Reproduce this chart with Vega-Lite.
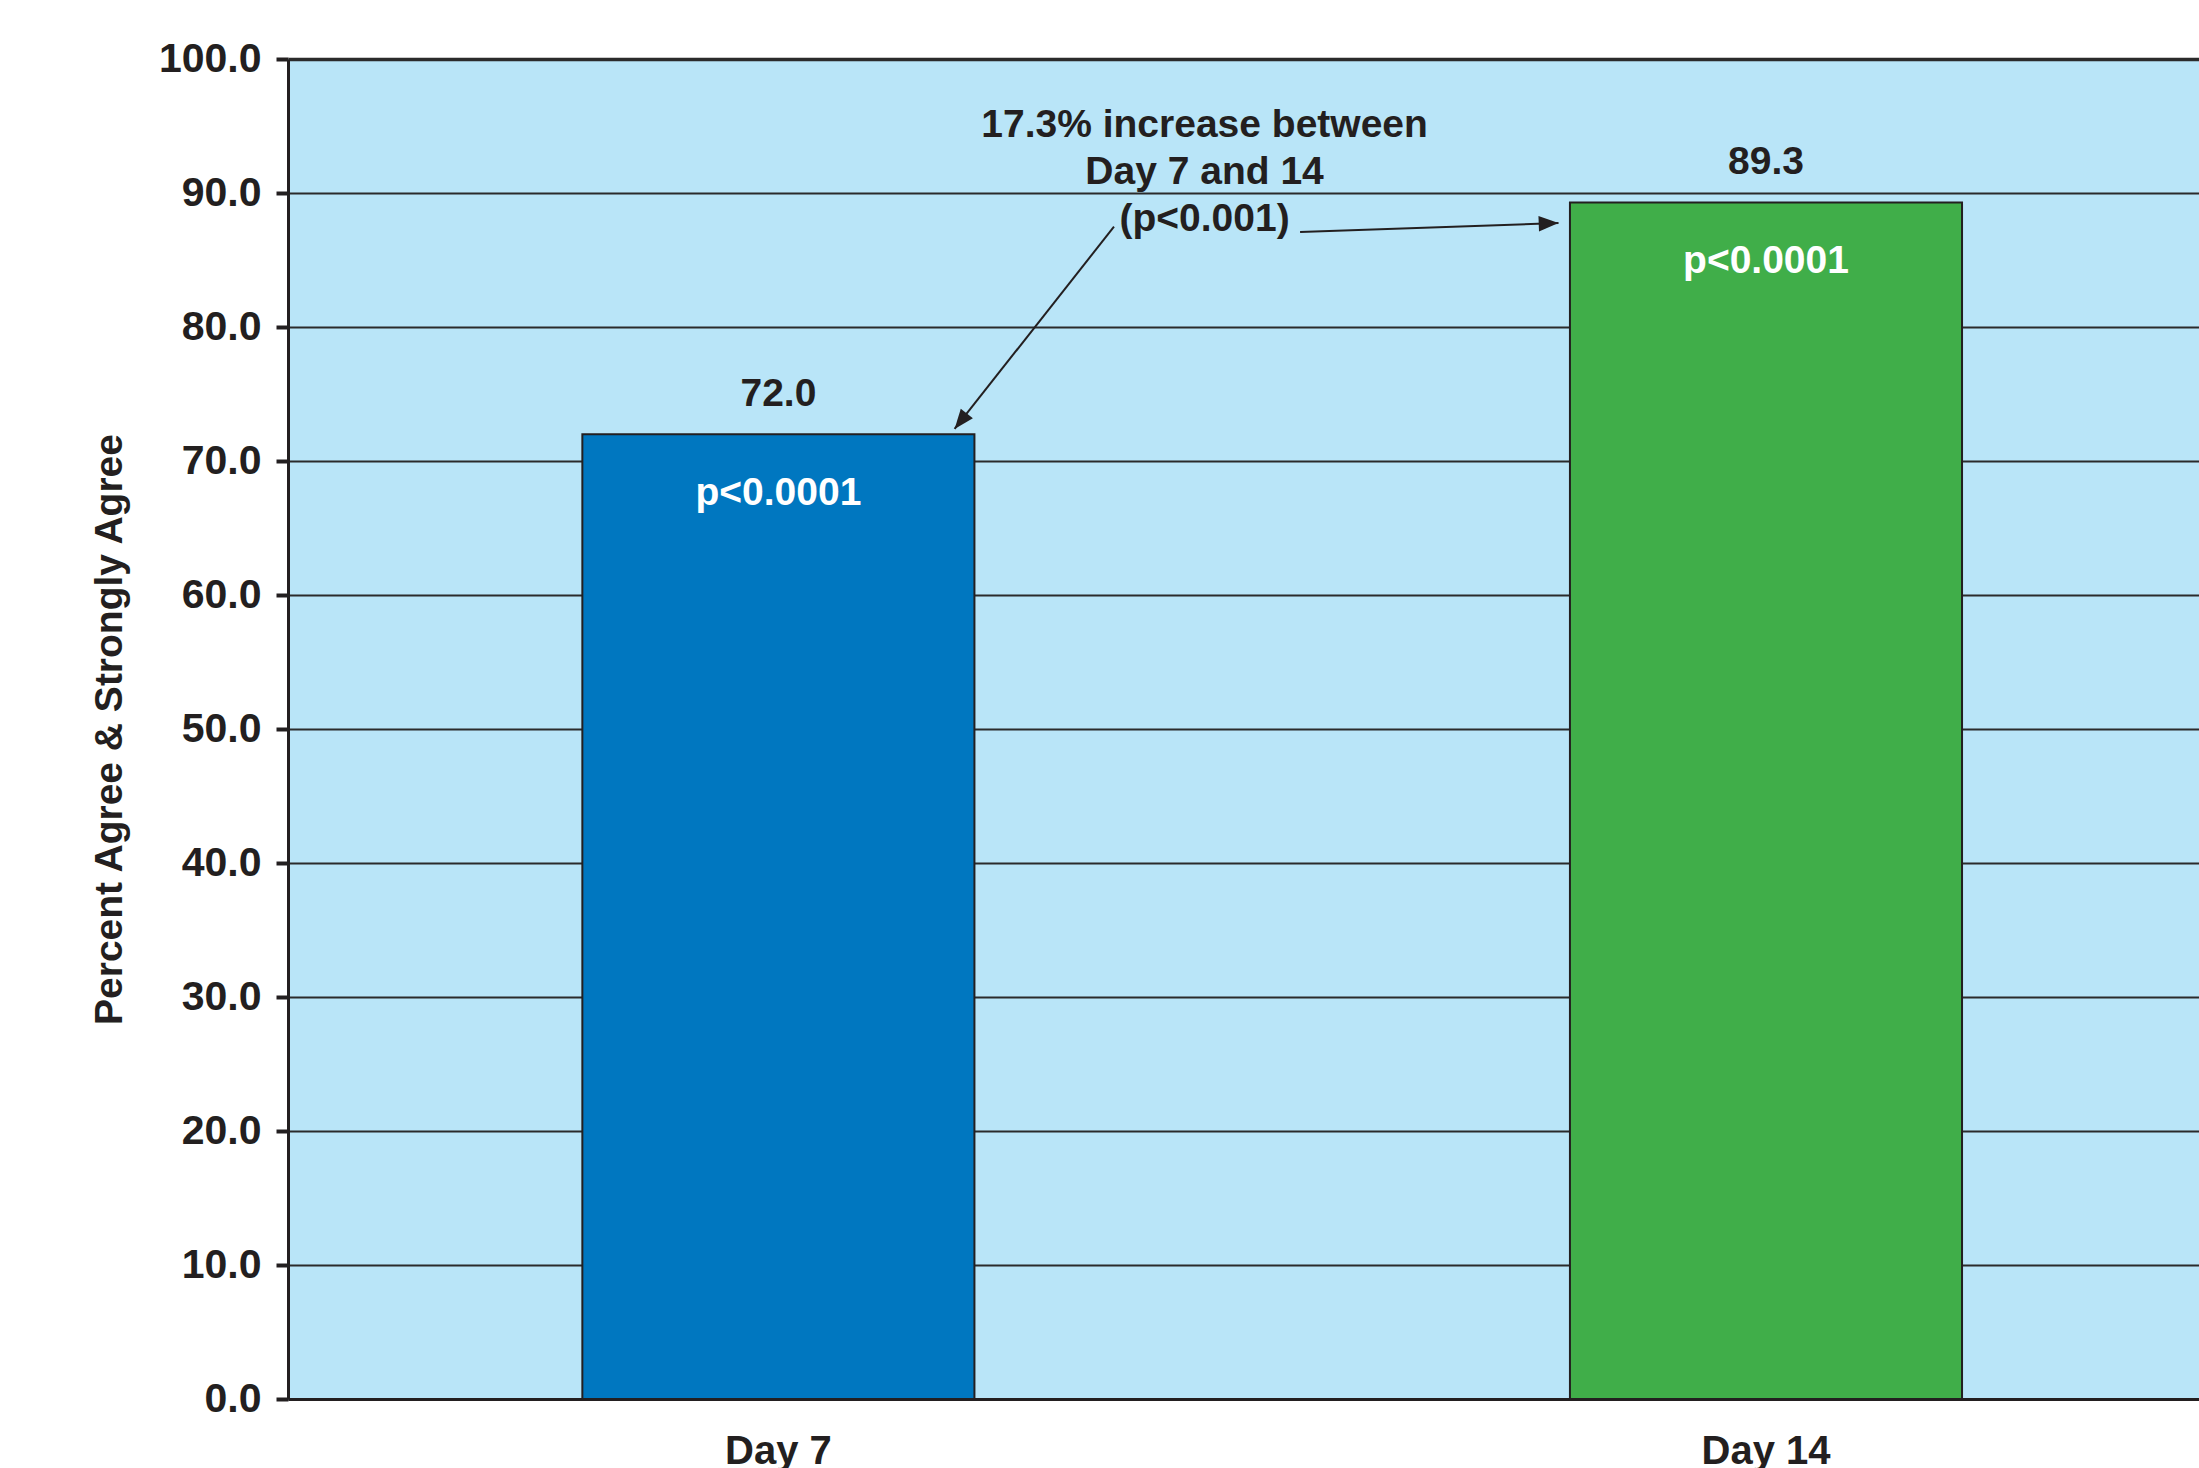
{
  "$schema": "https://vega.github.io/schema/vega-lite/v6.json",
  "width": 1911,
  "height": 1340,
  "autosize": {"type": "none"},
  "padding": {"left": 288, "top": 59, "right": 0, "bottom": 69},
  "background": "white",
  "config": {
    "view": {"fill": "#b9e5f8", "stroke": null},
    "font": "Liberation Sans"
  },
  "datasets": {
    "bars": [
      {"day": "Day 7", "value": 72.0, "p": "p<0.0001"},
      {"day": "Day 14", "value": 89.3, "p": "p<0.0001"}
    ],
    "notes": [
      {"text": "17.3% increase between", "pos": 10.02, "value": 94.2},
      {"text": "Day 7 and 14", "pos": 10.02, "value": 90.67},
      {"text": "(p<0.001)", "pos": 10.02, "value": 87.16}
    ],
    "arrows": [
      {"arrow": "to Day 7", "pos": 9.378, "value": 87.49, "pos2": 8.248, "value2": 72.39},
      {"arrow": "to Day 14", "pos": 10.697, "value": 87.09, "pos2": 12.529, "value2": 87.76}
    ]
  },
  "layer": [
    {
      "data": {"name": "bars"},
      "encoding": {
        "x": {
          "field": "day",
          "type": "nominal",
          "sort": ["Day 7", "Day 14"],
          "scale": {"paddingInner": 0.603, "paddingOuter": 0.269, "align": 0.554},
          "axis": {
            "title": null,
            "labelAngle": 0,
            "labelFontSize": 40,
            "labelFontWeight": "bold",
            "labelColor": "#231f20",
            "ticks": false,
            "tickSize": 0,
            "labelPadding": 32,
            "domainWidth": 3,
            "domainColor": "#231f20",
            "grid": false
          }
        },
        "y": {
          "field": "value",
          "type": "quantitative",
          "title": "Percent Agree & Strongly Agree",
          "scale": {"domain": [0, 100], "nice": false},
          "axis": {
            "values": [0, 10, 20, 30, 40, 50, 60, 70, 80, 90, 100],
            "format": ".1f",
            "labelFontSize": 41,
            "labelFontWeight": "bold",
            "labelColor": "#231f20",
            "labelPadding": 15,
            "tickSize": 12,
            "tickWidth": 4,
            "tickColor": "#231f20",
            "domainWidth": 3,
            "domainColor": "#231f20",
            "grid": true,
            "gridColor": "#2b2b2b",
            "gridOpacity": 1,
            "gridWidth": {"condition": {"test": "datum.value === 100", "value": 3.5}, "value": 2},
            "titleFontSize": 39,
            "titleFontWeight": "bold",
            "titleColor": "#231f20",
            "titlePadding": 29
          }
        }
      },
      "layer": [
        {
          "mark": {"type": "bar", "stroke": "#231f20", "strokeWidth": 2},
          "encoding": {
            "color": {
              "field": "day",
              "type": "nominal",
              "scale": {"domain": ["Day 7", "Day 14"], "range": ["#0077c0", "#40ae49"]},
              "legend": null
            }
          }
        },
        {
          "mark": {"type": "text", "fontSize": 39, "fontWeight": "bold", "color": "#231f20", "align": "center", "baseline": "alphabetic", "dy": -28},
          "encoding": {"text": {"field": "value", "type": "quantitative", "format": ".1f"}}
        },
        {
          "mark": {"type": "text", "fontSize": 39, "fontWeight": "bold", "color": "white", "align": "center", "baseline": "alphabetic", "dy": 71},
          "encoding": {"text": {"field": "p", "type": "nominal"}}
        }
      ]
    },
    {
      "layer": [
        {
          "data": {"name": "notes"},
          "mark": {"type": "text", "fontSize": 39, "fontWeight": "bold", "color": "#231f20", "align": "center", "baseline": "alphabetic"},
          "encoding": {
            "x": {"field": "pos", "type": "quantitative", "scale": {"domain": [3.523, 17.069], "nice": false, "zero": false}, "axis": null},
            "y": {"field": "value", "type": "quantitative", "title": "Percent Agree & Strongly Agree"},
            "text": {"field": "text", "type": "nominal"}
          }
        },
        {
          "data": {"name": "arrows"},
          "mark": {"type": "rule", "color": "#231f20", "strokeWidth": 2},
          "encoding": {
            "x": {"field": "pos", "type": "quantitative", "scale": {"domain": [3.523, 17.069], "nice": false, "zero": false}, "axis": null},
            "x2": {"field": "pos2"},
            "y": {"field": "value", "type": "quantitative", "title": "Percent Agree & Strongly Agree"},
            "y2": {"field": "value2"}
          }
        },
        {
          "data": {"name": "arrows"},
          "transform": [{"filter": "datum.arrow === 'to Day 7'"}],
          "mark": {"type": "point", "shape": "M0,0L-0.7,1.8L0.7,1.8Z", "filled": true, "fill": "#231f20", "strokeWidth": 0, "opacity": 1, "size": 484, "angle": 218.25},
          "encoding": {
            "x": {"field": "pos2", "type": "quantitative", "scale": {"domain": [3.523, 17.069], "nice": false, "zero": false}, "axis": null},
            "y": {"field": "value2", "type": "quantitative", "title": "Percent Agree & Strongly Agree"}
          }
        },
        {
          "data": {"name": "arrows"},
          "transform": [{"filter": "datum.arrow === 'to Day 14'"}],
          "mark": {"type": "point", "shape": "M0,0L-0.7,1.8L0.7,1.8Z", "filled": true, "fill": "#231f20", "strokeWidth": 0, "opacity": 1, "size": 484, "angle": 88},
          "encoding": {
            "x": {"field": "pos2", "type": "quantitative", "scale": {"domain": [3.523, 17.069], "nice": false, "zero": false}, "axis": null},
            "y": {"field": "value2", "type": "quantitative", "title": "Percent Agree & Strongly Agree"}
          }
        }
      ]
    }
  ],
  "resolve": {"scale": {"x": "independent"}}
}
